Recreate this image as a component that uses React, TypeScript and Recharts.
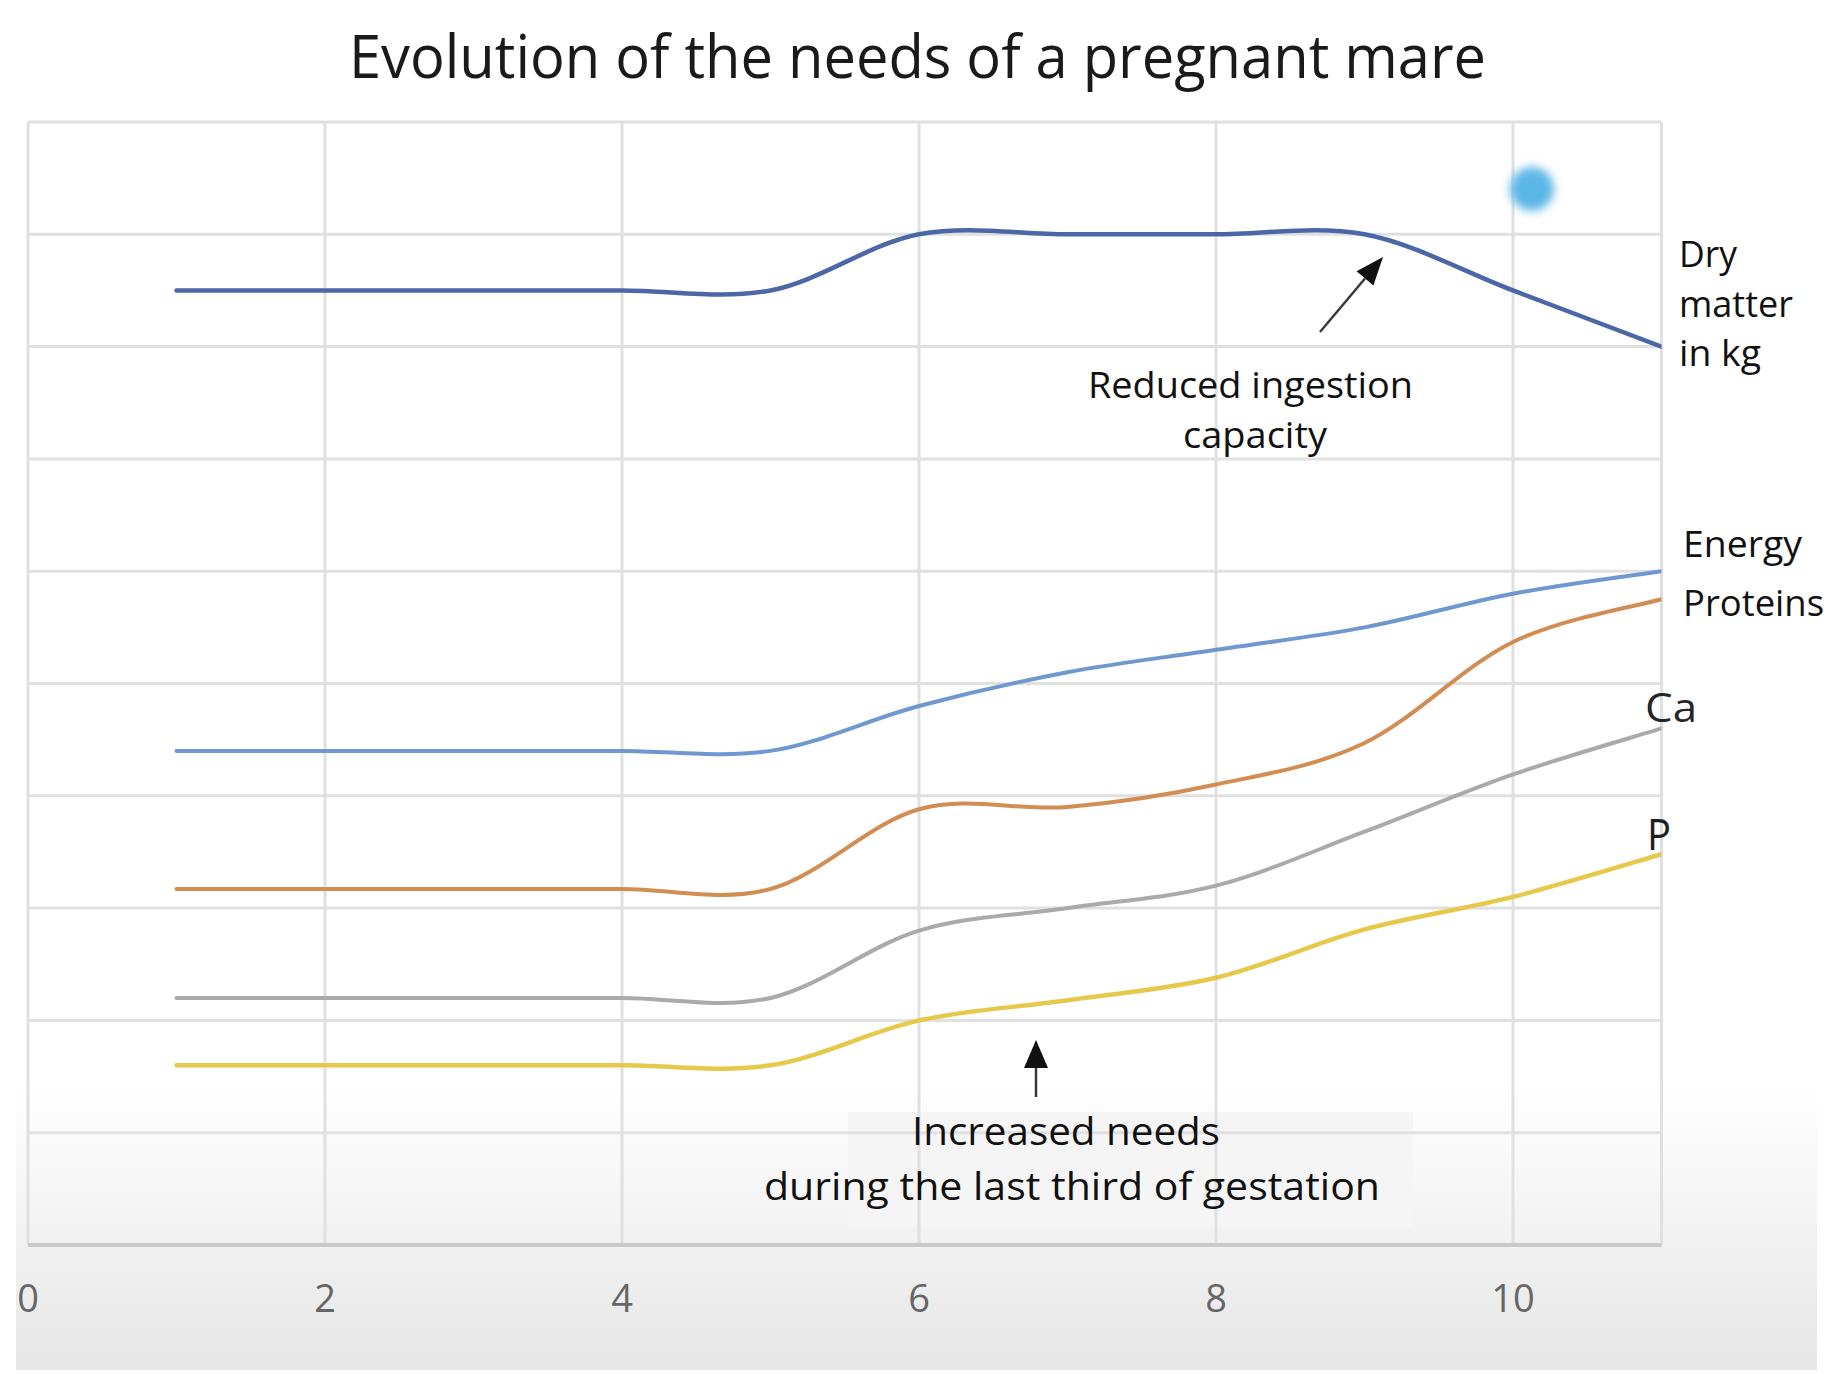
import { LineChart, Line, XAxis, YAxis, CartesianGrid } from "recharts";

// months of gestation
const months = [1, 2, 3, 4, 5, 6, 7, 8, 9, 10, 11];

// relative needs (grid units)
const dryMatter = [8.5, 8.5, 8.5, 8.5, 8.5, 9.0, 9.0, 9.0, 9.0, 8.5, 8.0];
const energy = [4.4, 4.4, 4.4, 4.4, 4.4, 4.8, 5.1, 5.3, 5.5, 5.8, 6.0];
const proteins = [3.17, 3.17, 3.17, 3.17, 3.17, 3.88, 3.9, 4.1, 4.47, 5.37, 5.75];
const calcium = [2.2, 2.2, 2.2, 2.2, 2.2, 2.8, 3.0, 3.2, 3.68, 4.19, 4.6];
const phosphorus = [1.6, 1.6, 1.6, 1.6, 1.6, 2.0, 2.18, 2.38, 2.81, 3.1, 3.48];

const xTicks = [0, 2, 4, 6, 8, 10];
const yTicks = [0, 1, 2, 3, 4, 5, 6, 7, 8, 9, 10];

const data = months.map((month, i) => ({
  month,
  dryMatter: dryMatter[i],
  energy: energy[i],
  proteins: proteins[i],
  calcium: calcium[i],
  phosphorus: phosphorus[i],
}));

const TEXT_FONT = "'Open Sans', 'Noto Sans', sans-serif";

/** Catmull-Rom smoothing, like the spreadsheet's "smoothed line" */
const smoothCurve = (context: any) => {
  let pts: [number, number][] = [];
  return {
    areaStart() {},
    areaEnd() {},
    lineStart() {
      pts = [];
    },
    point(x: number, y: number) {
      pts.push([+x, +y]);
    },
    lineEnd() {
      if (!pts.length) return;
      context.moveTo(pts[0][0], pts[0][1]);
      for (let i = 0; i < pts.length - 1; i++) {
        const p0 = pts[Math.max(i - 1, 0)];
        const p1 = pts[i];
        const p2 = pts[i + 1];
        const p3 = pts[Math.min(i + 2, pts.length - 1)];
        context.bezierCurveTo(
          p1[0] + (p2[0] - p0[0]) / 6,
          p1[1] + (p2[1] - p0[1]) / 6,
          p2[0] - (p3[0] - p1[0]) / 6,
          p2[1] - (p3[1] - p1[1]) / 6,
          p2[0],
          p2[1]
        );
      }
    },
  };
};

const MonthTick = ({ x, y, payload }: any) => (
  <text
    x={x}
    y={y + 67}
    textAnchor="middle"
    fontFamily="'Liberation Sans Narrow', 'Open Sans', sans-serif"
    fontSize={38}
    fill="#666"
  >
    {payload.value}
  </text>
);

interface LabelProps {
  x: number;
  y: number;
  w: number;
  size?: number;
  anchor?: "start" | "middle" | "end";
  fill?: string;
  children: string;
}

const Label = ({ x, y, w, size = 37, anchor = "start", fill = "#111", children }: LabelProps) => (
  <text
    x={x}
    y={y}
    textAnchor={anchor}
    fontFamily={TEXT_FONT}
    fontSize={size}
    fill={fill}
    textLength={w}
    lengthAdjust="spacingAndGlyphs"
  >
    {children}
  </text>
);

/** straight arrow with a filled triangular head */
const Arrow = ({ x1, y1, x2, y2, head = 28, half = 11 }: any) => {
  const dx = x2 - x1;
  const dy = y2 - y1;
  const len = Math.hypot(dx, dy);
  const ux = dx / len;
  const uy = dy / len;
  const bx = x2 - ux * head;
  const by = y2 - uy * head;
  const px = -uy * half;
  const py = ux * half;
  return (
    <g>
      <line x1={x1} y1={y1} x2={bx} y2={by} stroke="#3a3a3a" strokeWidth={2.5} />
      <polygon points={`${x2},${y2} ${bx + px},${by + py} ${bx - px},${by - py}`} fill="#111" />
    </g>
  );
};

export default function App() {
  return (
    <div style={{ position: "absolute", left: 0, top: 0, width: 1834, height: 1374, background: "#fff", overflow: "hidden" }}>
      {/* screenshot backdrop: fades to grey at the bottom */}
      <div
        style={{
          position: "absolute",
          left: 16,
          top: 0,
          width: 1801,
          height: 1370,
          background: "linear-gradient(to bottom, #ffffff 0px, #ffffff 1085px, #e6e6e6 1370px)",
        }}
      />
      {/* pale box behind the lower annotation */}
      <div style={{ position: "absolute", left: 848, top: 1112, width: 565, height: 116, background: "#f6f5f6" }} />

      <div style={{ position: "absolute", left: 0, top: 0 }}>
        <LineChart width={1834} height={1374} data={data} margin={{ top: 122, right: 172.5, bottom: 69, left: 28 }}>
          <CartesianGrid stroke="#e0e0e0" strokeWidth={3} />
          <XAxis
            dataKey="month"
            type="number"
            domain={[0, 11]}
            ticks={xTicks}
            allowDataOverflow
            height={60}
            tickSize={0}
            tickMargin={0}
            tickLine={false}
            axisLine={{ stroke: "#c9c9c9", strokeWidth: 4 }}
            tick={<MonthTick />}
          />
          <YAxis type="number" domain={[0, 10]} ticks={yTicks} hide />
          <Line dataKey="dryMatter" type={smoothCurve as any} stroke="#4b67a7" strokeWidth={4.5} dot={false} strokeLinecap="round" isAnimationActive={false} />
          <Line dataKey="energy" type={smoothCurve as any} stroke="#6e98cf" strokeWidth={4} dot={false} strokeLinecap="round" isAnimationActive={false} />
          <Line dataKey="proteins" type={smoothCurve as any} stroke="#d28d52" strokeWidth={4} dot={false} strokeLinecap="round" isAnimationActive={false} />
          <Line dataKey="calcium" type={smoothCurve as any} stroke="#aaaaaa" strokeWidth={4} dot={false} strokeLinecap="round" isAnimationActive={false} />
          <Line dataKey="phosphorus" type={smoothCurve as any} stroke="#e6c84a" strokeWidth={4.5} dot={false} strokeLinecap="round" isAnimationActive={false} />
        </LineChart>
      </div>

      <svg width={1834} height={1374} style={{ position: "absolute", left: 0, top: 0, pointerEvents: "none" }}>
        <defs>
          <filter id="soft" x="-50%" y="-50%" width="200%" height="200%">
            <feGaussianBlur stdDeviation={5} />
          </filter>
        </defs>
        <circle cx={1532} cy={189} r={22} fill="#5cb6e6" filter="url(#soft)" />

        <Label x={917.5} y={78} w={1137} size={60} anchor="middle" fill="#1a1a1a">
          Evolution of the needs of a pregnant mare
        </Label>

        <Label x={1679} y={267} w={58}>Dry</Label>
        <Label x={1679} y={317} w={114}>matter</Label>
        <Label x={1679} y={366} w={82}>in kg</Label>
        <Label x={1683} y={557} w={119}>Energy</Label>
        <Label x={1683} y={616} w={141}>Proteins</Label>
        <Label x={1645} y={722} w={52} size={41} fill="#262626">Ca</Label>
        <Label x={1647} y={850} w={24} size={43} fill="#1e1e1e">P</Label>

        <Label x={1250.5} y={398} w={325} anchor="middle">Reduced ingestion</Label>
        <Label x={1255} y={448} w={144} anchor="middle">capacity</Label>
        <Arrow x1={1320} y1={332} x2={1383} y2={257} />

        <Label x={1066} y={1145} w={308} size={38} anchor="middle">Increased needs</Label>
        <Label x={1072} y={1200} w={616} size={38} anchor="middle">during the last third of gestation</Label>
        <Arrow x1={1036} y1={1097} x2={1036} y2={1040} head={28} half={12} />
      </svg>
    </div>
  );
}
